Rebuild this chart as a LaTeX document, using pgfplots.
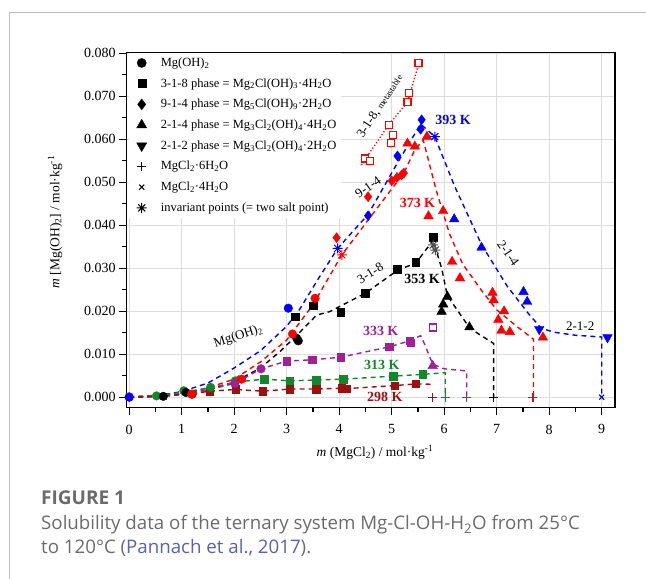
\documentclass[border=0pt]{standalone}
\usepackage{fontspec}
\setmainfont{Liberation Serif}
\newfontfamily\capfont{Open Sans}
\usepackage{pgfplots}
\pgfplotsset{compat=1.18}
\definecolor{cblue}{HTML}{0000FF}
\definecolor{cred}{HTML}{FF0000}
\definecolor{cpurp}{HTML}{A0209A}
\definecolor{cgreen}{HTML}{11882A}
\definecolor{cdred}{HTML}{A00F0F}
\definecolor{gridc}{HTML}{DDDDDD}
\definecolor{capgray}{HTML}{6B6B6B}
\definecolor{caplink}{HTML}{5B5FB5}
\definecolor{framec}{HTML}{BDBDBD}

\pgfdeclareplotmark{ast8}{%
  \pgfpathmoveto{\pgfpoint{0pt}{\pgfplotmarksize}}\pgfpathlineto{\pgfpoint{0pt}{-\pgfplotmarksize}}%
  \pgfpathmoveto{\pgfpoint{\pgfplotmarksize}{0pt}}\pgfpathlineto{\pgfpoint{-\pgfplotmarksize}{0pt}}%
  \pgfpathmoveto{\pgfpoint{.707\pgfplotmarksize}{.707\pgfplotmarksize}}\pgfpathlineto{\pgfpoint{-.707\pgfplotmarksize}{-.707\pgfplotmarksize}}%
  \pgfpathmoveto{\pgfpoint{-.707\pgfplotmarksize}{.707\pgfplotmarksize}}\pgfpathlineto{\pgfpoint{.707\pgfplotmarksize}{-.707\pgfplotmarksize}}%
  \pgfusepathqstroke}

\begin{document}
\begin{tikzpicture}
\path[use as bounding box] (0bp,0bp) rectangle (646bp,579bp);
\draw[framec, line width=1bp] (9.3bp,0bp) -- (9.3bp,566.3bp) -- (646bp,566.3bp);

\begin{axis}[
    at={(126.7bp,171.3bp)}, anchor=south west,
    scale only axis, width=488.3bp, height=355bp,
    xmin=-0.048, xmax=9.253, ymin=-0.00244, ymax=0.0801,
    xtick={0,1,2,3,4,5,6,7,8,9},
    ytick={0,0.01,0.02,0.03,0.04,0.05,0.06,0.07,0.08},
    minor x tick num=1, minor y tick num=1,
    tick align=outside, xtick pos=bottom, ytick pos=left,
    major tick length=7.5bp, minor tick length=4.5bp,
    grid=major, grid style={gridc, line width=1bp},
    axis line style={black, line width=1.5bp},
    tick style={black, line width=1.2bp},
    scaled y ticks=false,
    yticklabel style={/pgf/number format/.cd, fixed, fixed zerofill, precision=3},
    xticklabel style={yshift=-6bp},
    /pgf/number format/assume math mode=true,
    ticklabel style={font=\fontsize{14bp}{16bp}\selectfont},
    clip=false,
    legend style={at={(0.005,0.995)}, anchor=north west, yshift=1.7bp,
        draw=none, fill=white,
        font=\fontsize{12.5bp}{14bp}\selectfont, row sep=4.7bp,
        nodes={inner sep=1.5bp, text height=10bp, text depth=3bp}},
    legend cell align=left,
    legend image code/.code={%
        \path (-0.31cm,0cm) (0.6cm,0cm);
        \draw[#1] plot coordinates {(0cm,0cm)};},
    dl/.style={dash pattern=on 5bp off 4bp, line width=1.4bp, forget plot},
    mk/.style={only marks, forget plot},
]

% legend entries
\addlegendimage{only marks, mark=*, black, mark size=4.6bp}
\addlegendentry{Mg(OH)\textsubscript{2}}
\addlegendimage{only marks, mark=square*, black, mark size=4bp}
\addlegendentry{3-1-8 phase = Mg\textsubscript{2}Cl(OH)\textsubscript{3}·4H\textsubscript{2}O}
\addlegendimage{only marks, mark=diamond*, black, mark size=5.4bp}
\addlegendentry{9-1-4 phase = Mg\textsubscript{5}Cl(OH)\textsubscript{9}·2H\textsubscript{2}O}
\addlegendimage{only marks, mark=triangle*, black, mark size=5.8bp}
\addlegendentry{2-1-4 phase = Mg\textsubscript{3}Cl\textsubscript{2}(OH)\textsubscript{4}·4H\textsubscript{2}O}
\addlegendimage{only marks, mark=triangle*, black, mark size=5.8bp, mark options={rotate=180}}
\addlegendentry{2-1-2 phase = Mg\textsubscript{3}Cl\textsubscript{2}(OH)\textsubscript{4}·2H\textsubscript{2}O}
\addlegendimage{only marks, mark=+, black, mark size=4.5bp, line width=1.2bp}
\addlegendentry{MgCl\textsubscript{2}·6H\textsubscript{2}O}
\addlegendimage{only marks, mark=x, black, mark size=3.5bp, line width=1bp}
\addlegendentry{MgCl\textsubscript{2}·4H\textsubscript{2}O}
\addlegendimage{only marks, mark=ast8, black, mark size=5bp, line width=1bp}
\addlegendentry{invariant points (= two salt point)}

% ---- lines ----
% 393 K
\addplot[dl, cblue] coordinates {
  (0,0) (0.5,0.0003) (1.0,0.0013) (1.5,0.0033) (2.0,0.0068) (2.5,0.0108)
  (3.0,0.0165) (3.25,0.0205) (3.6,0.0275) (3.97,0.0346) (4.55,0.0425)
  (5.11,0.0545) (5.55,0.0635) (5.82,0.0606) (6.2,0.049) (6.71,0.0355)
  (7.2,0.0258) (7.6,0.0195) (7.85,0.016) (8.1,0.0151) (8.5,0.0144)
  (9.0,0.0140) (9.0,0)};
% 373 K
\addplot[dl, cred] coordinates {
  (0,0) (0.5,0.0002) (1.0,0.0008) (1.5,0.0022) (2.0,0.0042) (2.5,0.0082)
  (3.0,0.0133) (3.5,0.0215) (4.05,0.0331) (4.6,0.042) (5.23,0.0521)
  (5.44,0.0575) (5.6,0.0598) (5.85,0.048) (6.1,0.038) (6.35,0.031)
  (6.7,0.025) (7.0,0.0203) (7.4,0.0163) (7.7,0.0135) (7.7,0)};
\addplot[red, dotted, line width=1.3bp, forget plot] coordinates {
  (4.42,0.0540) (4.94,0.0633) (5.30,0.0686) (5.55,0.0790)};
% 353 K
\addplot[dl, black] coordinates {
  (0,0) (0.65,0.0002) (1.0,0.0007) (1.5,0.0017) (2.0,0.0035) (2.5,0.0068)
  (2.87,0.0106) (3.2,0.0145) (3.57,0.0191) (3.82,0.0199) (4.5,0.0242)
  (5.11,0.0295) (5.46,0.0312) (5.79,0.0365) (5.95,0.0300) (6.06,0.0236)
  (6.49,0.0160) (6.94,0.0125) (6.94,0)};
% 333 K
\addplot[dl, cpurp] coordinates {
  (0,0.0001) (1.0,0.0008) (1.5,0.0017) (2.01,0.0032) (2.51,0.0066)
  (3.0,0.0084) (3.49,0.0087) (4.03,0.0093) (4.95,0.0117) (5.34,0.0131)
  (5.55,0.0143) (5.62,0.0125) (5.78,0.0077) (6.0,0.0066) (6.43,0.0061)
  (6.43,0)};
% 313 K
\addplot[dl, cgreen] coordinates {
  (0,0) (0.52,0.0003) (1.04,0.0012) (1.55,0.0022) (2.02,0.0035) (2.57,0.0042)
  (3.06,0.0038) (3.56,0.0040) (4.08,0.0042) (5.03,0.0049) (5.59,0.0053)
  (6.02,0.0057) (6.02,0)};
% 298 K
\addplot[dl, cdred] coordinates {
  (0,0) (0.6,0.0002) (1.2,0.0008) (1.53,0.0014) (2.03,0.0018) (2.54,0.0014)
  (3.06,0.0019) (3.56,0.0019) (4.05,0.0021) (4.14,0.0020) (5.06,0.0027)
  (5.46,0.0031) (5.79,0.0030)};

% ---- marks ----
% 298 K
\addplot[mk, cdred, mark=square*, mark size=3.8bp] coordinates {
  (1.53,0.0014) (2.03,0.0018) (2.54,0.0014) (3.06,0.0019) (3.56,0.0019)
  (4.05,0.0021) (4.14,0.0020) (5.06,0.0027) (5.46,0.0031)};
\addplot[mk, cdred, mark=*, mark size=4.3bp] coordinates {(1.2,0.0007)};
\addplot[mk, cdred, mark=+, mark size=4.5bp, line width=1.2bp] coordinates {(5.78,0)};
% 313 K
\addplot[mk, cgreen, mark=*, mark size=4.3bp] coordinates {
  (0.52,0.0003) (1.04,0.0015) (1.55,0.0023) (2.02,0.0038)};
\addplot[mk, cgreen, mark=square*, mark size=3.8bp] coordinates {
  (2.57,0.0042) (3.06,0.0038) (3.56,0.0040) (4.08,0.0042) (5.03,0.0049) (5.59,0.0053)};
\addplot[mk, cgreen, mark=+, mark size=4.5bp, line width=1.2bp] coordinates {(6.02,0)};
% 333 K
\addplot[mk, cpurp, mark=*, mark size=4.3bp] coordinates {
  (0,0.0001) (2.01,0.0032) (2.51,0.0066)};
\addplot[mk, cpurp, mark=square*, mark size=3.8bp] coordinates {
  (3.0,0.0084) (3.49,0.0087) (4.03,0.0093) (4.95,0.0117) (5.34,0.0131) (5.36,0.0127)};
\addplot[mk, cpurp, mark=triangle*, mark size=5.5bp] coordinates {(5.78,0.0073)};
\addplot[mk, cpurp, mark=square*, mark size=3.5bp, mark options={fill=white, line width=1.1bp}] coordinates {(5.79,0.0162)};
\addplot[mk, cpurp, mark=+, mark size=4.5bp, line width=1.2bp] coordinates {(6.43,0)};
% 353 K
\addplot[mk, black, mark=*, mark size=4.3bp] coordinates {
  (0.65,0.0002) (1.08,0.0011) (3.19,0.0137) (3.22,0.0131)};
\addplot[mk, black, mark=square*, mark size=3.8bp] coordinates {
  (3.16,0.0187) (3.51,0.0213) (4.03,0.0197) (4.50,0.0242) (5.11,0.0297)
  (5.46,0.0314) (5.79,0.0372)};
\addplot[mk, black, mark=triangle*, mark size=5.5bp] coordinates {
  (6.06,0.0234) (5.98,0.0216) (5.95,0.0199) (6.48,0.0163)};
\addplot[mk, black!70, mark=ast8, mark size=5bp, line width=1bp] coordinates {
  (5.79,0.0354) (5.83,0.0342)};
\addplot[mk, black, mark=+, mark size=4.5bp, line width=1.2bp] coordinates {(6.94,0)};
% 373 K
\addplot[mk, cred, mark=*, mark size=4.3bp] coordinates {
  (1.19,0.0007) (2.14,0.0042) (3.11,0.0147) (3.54,0.0230)};
\addplot[mk, cred, mark=diamond*, mark size=5bp] coordinates {
  (3.95,0.0371) (4.55,0.0466) (5.0,0.0503) (5.10,0.0511) (5.19,0.0517) (5.23,0.0521)};
\addplot[mk, cred, mark=triangle*, mark size=5.5bp] coordinates {
  (5.30,0.0590) (5.44,0.0583) (5.67,0.0606) (5.70,0.0421) (5.98,0.0433)
  (6.15,0.0315) (6.30,0.0277) (6.92,0.0243) (6.94,0.0226) (7.14,0.0200)
  (7.03,0.0180) (7.09,0.0155) (7.25,0.0152) (7.88,0.0139)};
\addplot[mk, cred, mark=square*, mark size=3.5bp, mark options={fill=white, line width=1.1bp}] coordinates {
  (5.51,0.0778) (5.33,0.0707) (5.30,0.0686) (4.94,0.0633) (5.02,0.0610)
  (4.98,0.0590) (4.49,0.0555) (4.59,0.0550)};
\addplot[mk, cred, mark=ast8, mark size=5bp, line width=1bp] coordinates {(4.05,0.0331)};
\addplot[mk, cred, mark=+, mark size=4.5bp, line width=1.2bp] coordinates {(7.69,0)};
% 393 K
\addplot[mk, cblue, mark=*, mark size=4.3bp] coordinates {(0,0) (3.03,0.0207)};
\addplot[mk, cblue, mark=diamond*, mark size=5bp] coordinates {
  (4.55,0.0422) (5.11,0.0561) (5.55,0.0623) (5.57,0.0645)};
\addplot[mk, cblue, mark=triangle*, mark size=5.5bp] coordinates {
  (6.19,0.0414) (6.71,0.0348) (7.51,0.0245) (7.58,0.0222)};
\addplot[mk, cblue, mark=triangle*, mark size=5.5bp, mark options={rotate=180}] coordinates {
  (7.81,0.0158) (9.11,0.0139)};
\addplot[mk, cblue, mark=ast8, mark size=5bp, line width=1bp] coordinates {
  (3.97,0.0346) (5.82,0.0606)};
\addplot[mk, cblue, mark=x, mark size=3.5bp, line width=1.1bp] coordinates {(9.0,0)};

% ---- annotations ----
\begin{scope}[font=\fontsize{14bp}{16bp}\selectfont\bfseries]
\node[cblue] at (axis cs:6.17,0.0645) {393 K};
\node[cred] at (axis cs:5.49,0.0451) {373 K};
\node[black] at (axis cs:5.58,0.0274) {353 K};
\node[cpurp] at (axis cs:4.79,0.0154) {333 K};
\node[cgreen] at (axis cs:4.81,0.0075) {313 K};
\node[cdred] at (axis cs:4.87,0.0000) {298 K};
\end{scope}
\begin{scope}[font=\fontsize{13bp}{15bp}\selectfont]
\node[rotate=18] at (axis cs:2.08,0.0141) {Mg(OH)\textsubscript{2}};
\node[rotate=32] at (axis cs:4.59,0.0288) {3-1-8};
\node[rotate=35] at (axis cs:4.55,0.0489) {9-1-4};
\node[rotate=57] at (axis cs:4.78,0.0676) {3-1-8, {\fontsize{9bp}{10bp}\selectfont metastable}};
\node[rotate=-55] at (axis cs:7.22,0.0335) {2-1-4};
\node at (axis cs:8.59,0.0166) {2-1-2};
\end{scope}
\end{axis}

\node[rotate=90, font=\fontsize{13.5bp}{15bp}\selectfont] at (55bp,357bp)
  {\textit{m} [Mg(OH)\textsubscript{2}] / mol·kg\textsuperscript{-1}};
\node[font=\fontsize{13.5bp}{15bp}\selectfont] at (375bp,127bp)
  {\textit{m} (MgCl\textsubscript{2}) / mol·kg\textsuperscript{-1}};

\node[anchor=west, inner sep=0pt, capgray, font=\capfont\fontsize{19bp}{22bp}\selectfont\bfseries] at (41bp,81bp) {FIGURE 1};
\node[anchor=west, inner sep=0pt, capgray, font=\capfont\fontsize{18.7bp}{22bp}\selectfont] at (41bp,54bp)
  {Solubility data of the ternary system Mg-Cl-OH-H\textsubscript{2}O from 25°C};
\node[anchor=west, inner sep=0pt, capgray, font=\capfont\fontsize{18.7bp}{22bp}\selectfont] at (41bp,31bp)
  {to 120°C (\textcolor{caplink}{Pannach et al., 2017}).};
\end{tikzpicture}
\end{document}
